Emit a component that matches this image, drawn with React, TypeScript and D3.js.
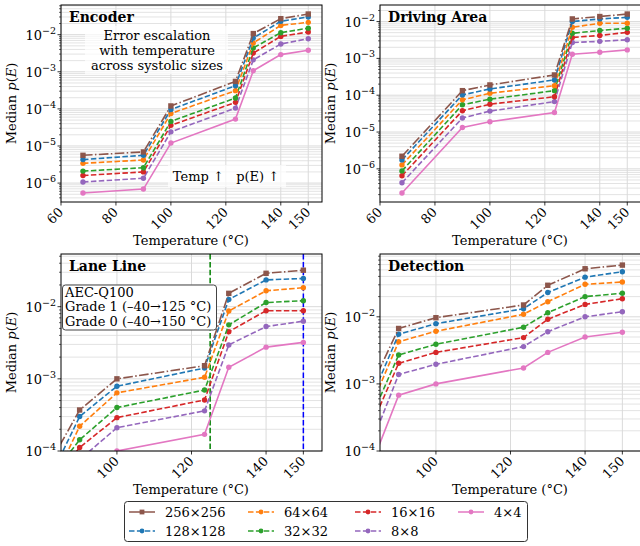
import React, { useEffect, useRef } from 'react';
import * as d3 from 'd3';

// temperatures (°C) where the median error probability was measured
const temps = [68, 90, 100, 123.5, 130, 140, 150];

const sizes = ['256×256', '128×128', '64×64', '32×32', '16×16', '8×8', '4×4'];
const colors = ['#8c564b', '#1f77b4', '#ff7f0e', '#2ca02c', '#d62728', '#9467bd', '#e377c2'];
const dashes = ['9.6,2.4,1.5,2.4', '5.5,2.4', '5.5,2.4', '5.5,2.4', '5.5,2.4', '5.5,2.4', null];
const markers = ['square', 'circle', 'circle', 'circle', 'circle', 'circle', 'circle'];

// one row per systolic size, same order as `sizes`
const encoderValues = [
  [5.6e-6, 6.9e-6, 1.2e-4, 5.5e-4, 1.07e-2, 2.7e-2, 3.6e-2],
  [4.3e-6, 5.6e-6, 9.6e-5, 4.2e-4, 8.1e-3, 2.3e-2, 3.0e-2],
  [3.4e-6, 4.2e-6, 7.5e-5, 3.1e-4, 6.0e-3, 1.78e-2, 2.15e-2],
  [2.1e-6, 2.6e-6, 4.6e-5, 1.96e-4, 4.4e-3, 1.13e-2, 1.5e-2],
  [1.6e-6, 2.0e-6, 3.6e-5, 1.5e-4, 3.2e-3, 9.0e-3, 1.18e-2],
  [1.07e-6, 1.35e-6, 2.4e-5, 1.05e-4, 2.1e-3, 5.6e-3, 7.8e-3],
  [5.4e-7, 6.9e-7, 1.2e-5, 5.3e-5, 1.07e-3, 2.9e-3, 3.8e-3],
];

const drivingValues = [
  [2.2e-6, 1.33e-4, 1.9e-4, 3.55e-4, 1.18e-2, 1.37e-2, 1.6e-2],
  [1.75e-6, 1.02e-4, 1.48e-4, 2.6e-4, 1.0e-2, 1.18e-2, 1.3e-2],
  [1.28e-6, 7.5e-5, 1.13e-4, 1.82e-4, 7.0e-3, 9.0e-3, 9.0e-3],
  [8.8e-7, 5.5e-5, 7.8e-5, 1.33e-4, 4.8e-3, 5.7e-3, 6.6e-3],
  [6.5e-7, 3.8e-5, 5.7e-5, 9.1e-5, 3.7e-3, 4.2e-3, 5.1e-3],
  [4.2e-7, 2.4e-5, 3.7e-5, 6.7e-5, 2.7e-3, 2.9e-3, 3.2e-3],
  [2.2e-7, 1.33e-5, 1.9e-5, 3.4e-5, 1.3e-3, 1.47e-3, 1.7e-3],
];

const laneValues = [
  [3.5e-6, 3.7e-4, 1.0e-3, 1.52e-3, 1.53e-2, 2.9e-2, 3.2e-2],
  [1.35e-6, 3.0e-4, 7.9e-4, 1.41e-3, 1.26e-2, 2.35e-2, 2.46e-2],
  [9e-7, 2.2e-4, 6.4e-4, 1.05e-3, 8.7e-3, 1.66e-2, 1.83e-2],
  [5e-6, 1.43e-4, 4.0e-4, 7.0e-4, 5.6e-3, 1.14e-2, 1.21e-2],
  [4e-6, 1.12e-4, 2.9e-4, 5.1e-4, 4.5e-3, 8.8e-3, 8.8e-3],
  [3e-6, 7.6e-5, 2.1e-4, 3.6e-4, 2.95e-3, 5.3e-3, 6.3e-3],
  [5e-7, 2e-5, 1.0e-4, 1.7e-4, 1.45e-3, 2.75e-3, 3.2e-3],
];

const detectionValues = [
  [1.7e-5, 6.7e-3, 9.7e-3, 1.5e-2, 2.95e-2, 5.2e-2, 5.9e-2],
  [7.6e-6, 5.5e-3, 7.9e-3, 1.32e-2, 2.3e-2, 3.9e-2, 4.7e-2],
  [5.9e-6, 4.25e-3, 6.1e-3, 1.09e-2, 1.68e-2, 3.05e-2, 3.3e-2],
  [4.5e-6, 2.7e-3, 3.9e-3, 7.0e-3, 1.15e-2, 2.0e-2, 2.24e-2],
  [3.2e-6, 2.03e-3, 2.95e-3, 4.9e-3, 9.2e-3, 1.53e-2, 1.86e-2],
  [1.1e-6, 1.38e-3, 1.96e-3, 3.6e-3, 6.0e-3, 1.0e-2, 1.19e-2],
  [5e-7, 6.8e-4, 1.0e-3, 1.73e-3, 2.95e-3, 5.0e-3, 5.9e-3],
];

const topXTicks = [60, 80, 100, 120, 140, 150];
const bottomXTicks = [100, 120, 140, 150];

const panels = [
  { title: 'Encoder', values: encoderValues, col: 0, row: 0, xDomain: [60, 155], xTicks: topXTicks, yDomain: [10 ** -6.51, 10 ** -1.2], yTicks: [-6, -5, -4, -3, -2] },
  { title: 'Driving Area', values: drivingValues, col: 1, row: 0, xDomain: [60, 155], xTicks: topXTicks, yDomain: [10 ** -6.9, 10 ** -1.55], yTicks: [-6, -5, -4, -3, -2] },
  { title: 'Lane Line', values: laneValues, col: 0, row: 1, xDomain: [85, 155], xTicks: bottomXTicks, yDomain: [1e-4, 10 ** -1.27], yTicks: [-4, -3, -2] },
  { title: 'Detection', values: detectionValues, col: 1, row: 1, xDomain: [85, 155], xTicks: bottomXTicks, yDomain: [1e-4, 10 ** -1.064], yTicks: [-4, -3, -2] },
];

const FONT = "'DejaVu Serif', serif";

const drawMarker = (sel, kind, color, cx, cy, r) => {
  if (kind === 'square') {
    sel.append('rect').attr('x', cx - r).attr('y', cy - r).attr('width', 2 * r).attr('height', 2 * r).attr('fill', color);
  } else {
    sel.append('circle').attr('cx', cx).attr('cy', cy).attr('r', r).attr('fill', color);
  }
};

const App = () => {
  const svgRef = useRef(null);
  const width = 640, height = 546;

  useEffect(() => {
    const svg = d3.select(svgRef.current);
    svg.selectAll('*').remove();
    svg.append('rect').attr('width', width).attr('height', height).attr('fill', 'white');

    const pw = 261, ph = 197;
    const lefts = [61, 380], tops = [5, 254];

    panels.forEach((p, pi) => {
      const left = lefts[p.col], top = tops[p.row];
      const x = d3.scaleLinear().domain(p.xDomain).range([0, pw]);
      const y = d3.scaleLog().domain(p.yDomain).range([ph, 0]);
      const g = svg.append('g').attr('transform', `translate(${left},${top})`).style('font-family', FONT);

      const clipId = `clip-${pi}`;
      g.append('clipPath').attr('id', clipId).append('rect').attr('width', pw).attr('height', ph);

      // minor + major horizontal grid
      const lo = Math.floor(Math.log10(p.yDomain[0])), hi = Math.ceil(Math.log10(p.yDomain[1]));
      const minor = [];
      for (let e = lo; e <= hi; e++) {
        for (let k = 2; k <= 9; k++) {
          const v = k * 10 ** e;
          if (v > p.yDomain[0] && v < p.yDomain[1]) minor.push(v);
        }
      }
      g.append('g').selectAll('line').data(minor).join('line')
        .attr('x1', 0).attr('x2', pw).attr('y1', d => y(d)).attr('y2', d => y(d))
        .attr('stroke', '#e0e0e0').attr('stroke-width', 0.9);
      g.append('g').selectAll('line').data(p.yTicks).join('line')
        .attr('x1', 0).attr('x2', pw).attr('y1', d => y(10 ** d)).attr('y2', d => y(10 ** d))
        .attr('stroke', '#dadada').attr('stroke-width', 1);
      g.append('g').selectAll('line').data(p.xTicks).join('line')
        .attr('x1', d => x(d)).attr('x2', d => x(d)).attr('y1', 0).attr('y2', ph)
        .attr('stroke', '#dadada').attr('stroke-width', 1);

      // encoder annotation boxes sit under the data lines
      if (p.title === 'Encoder') {
        g.append('rect').attr('x', 24).attr('y', 21).attr('width', 143).attr('height', 48)
          .attr('fill', 'white').attr('opacity', 0.7);
        g.append('rect').attr('x', 107).attr('y', 160).attr('width', 118).attr('height', 22)
          .attr('fill', 'white').attr('opacity', 0.7);
      }

      const plot = g.append('g').attr('clip-path', `url(#${clipId})`);

      if (p.title === 'Lane Line') {
        plot.append('line').attr('x1', x(125)).attr('x2', x(125)).attr('y1', 0).attr('y2', ph)
          .attr('stroke', 'green').attr('stroke-width', 1.5).attr('stroke-dasharray', '5.5,2.4');
        plot.append('line').attr('x1', x(150)).attr('x2', x(150)).attr('y1', 0).attr('y2', ph)
          .attr('stroke', 'blue').attr('stroke-width', 1.5).attr('stroke-dasharray', '5.5,2.4');
      }

      const line = d3.line().x(d => x(d[0])).y(d => y(d[1]));
      // draw smallest array first so the large sizes sit on top
      for (let si = sizes.length - 1; si >= 0; si--) {
        const pts = temps.map((t, i) => [t, p.values[si][i]]);
        plot.append('path').attr('d', line(pts)).attr('fill', 'none')
          .attr('stroke', colors[si]).attr('stroke-width', 1.6)
          .attr('stroke-dasharray', dashes[si]);
        const mg = plot.append('g');
        pts.forEach(([t, v]) => drawMarker(mg, markers[si], colors[si], x(t), y(v), 2.7));
      }

      // frame
      g.append('rect').attr('width', pw).attr('height', ph).attr('fill', 'none').attr('stroke', 'black').attr('stroke-width', 1);

      // y ticks
      g.append('g').selectAll('line').data(minor).join('line')
        .attr('x1', -2).attr('x2', 0).attr('y1', d => y(d)).attr('y2', d => y(d))
        .attr('stroke', 'black').attr('stroke-width', 0.6);
      const yt = g.append('g').selectAll('g').data(p.yTicks).join('g')
        .attr('transform', d => `translate(0,${y(10 ** d)})`);
      yt.append('line').attr('x1', -3.5).attr('x2', 0).attr('stroke', 'black').attr('stroke-width', 0.8);
      const ytxt = yt.append('text').attr('x', -5).attr('dy', '0.38em').attr('text-anchor', 'end')
        .attr('font-size', 13).attr('fill', 'black');
      ytxt.append('tspan').text('10');
      ytxt.append('tspan').attr('dy', -6).attr('font-size', 9.5).text(d => `−${-d}`);

      // x ticks
      const xt = g.append('g').selectAll('g').data(p.xTicks).join('g')
        .attr('transform', d => `translate(${x(d)},${ph})`);
      xt.append('line').attr('y1', 0).attr('y2', 3.5).attr('stroke', 'black').attr('stroke-width', 0.8);
      xt.append('text').attr('transform', 'translate(3,11) rotate(-45)').attr('text-anchor', 'end')
        .attr('font-size', 13).attr('fill', 'black').text(d => d);

      // axis labels
      const ylab = g.append('text').attr('transform', `translate(${-45},${ph / 2}) rotate(-90)`)
        .attr('text-anchor', 'middle').attr('font-size', 13).attr('fill', 'black');
      ylab.append('tspan').text('Median ');
      ylab.append('tspan').attr('font-style', 'italic').text('p');
      ylab.append('tspan').text('(');
      ylab.append('tspan').attr('font-style', 'italic').text('E');
      ylab.append('tspan').text(')');

      g.append('text').attr('x', 130).attr('y', 240).attr('text-anchor', 'middle')
        .attr('font-size', 13).attr('fill', 'black').text('Temperature (°C)');

      // panel title
      g.append('text').attr('x', 8).attr('y', 17).attr('font-size', 14).attr('font-weight', 'bold')
        .attr('fill', 'black').text(p.title);

      if (p.title === 'Encoder') {
        ['Error escalation', 'with temperature', 'across systolic sizes'].forEach((s, i) => {
          g.append('text').attr('x', 96).attr('y', 34.5 + i * 15).attr('text-anchor', 'middle')
            .attr('font-size', 13).attr('fill', 'black').text(s);
        });
        g.append('text').attr('x', 165).attr('y', 175.5).attr('text-anchor', 'middle')
          .attr('font-size', 13).attr('fill', 'black').style('white-space', 'pre').text('Temp ↑   p(E) ↑');
      }

      if (p.title === 'Lane Line') {
        g.append('rect').attr('x', 1.5).attr('y', 31).attr('width', 154).attr('height', 45).attr('rx', 3)
          .attr('fill', 'white').attr('stroke', '#444').attr('stroke-width', 1);
        ['AEC-Q100', 'Grade 1 (–40→125 °C)', 'Grade 0 (–40→150 °C)'].forEach((s, i) => {
          g.append('text').attr('x', 4).attr('y', 43 + i * 14.3).attr('font-size', 13)
            .attr('fill', 'black').text(s);
        });
      }
    });

    // legend
    const lg = svg.append('g').style('font-family', FONT);
    lg.append('rect').attr('x', 124.5).attr('y', 501.5).attr('width', 403).attr('height', 40).attr('rx', 3)
      .attr('fill', 'white').attr('stroke', '#333').attr('stroke-width', 1);
    const colX = [129, 248, 355, 458];
    sizes.forEach((s, i) => {
      const c = Math.floor(i / 2), r = i % 2;
      const hx = colX[c], hy = 512 + r * 19;
      lg.append('line').attr('x1', hx).attr('x2', hx + 26).attr('y1', hy).attr('y2', hy)
        .attr('stroke', colors[i]).attr('stroke-width', 1.5)
        .attr('stroke-dasharray', i === 0 || i === 6 ? null : '5.5,2.4');
      drawMarker(lg, markers[i], colors[i], hx + 13, hy, 2.4);
      lg.append('text').attr('x', hx + 36).attr('y', hy + 4.5).attr('font-size', 13).attr('fill', 'black').text(s);
    });
  }, []);

  return (
    <div style={{ position: 'absolute', left: 0, top: 0 }}>
      <svg ref={svgRef} width={width} height={height} style={{ display: 'block' }}></svg>
    </div>
  );
};

export default App;
